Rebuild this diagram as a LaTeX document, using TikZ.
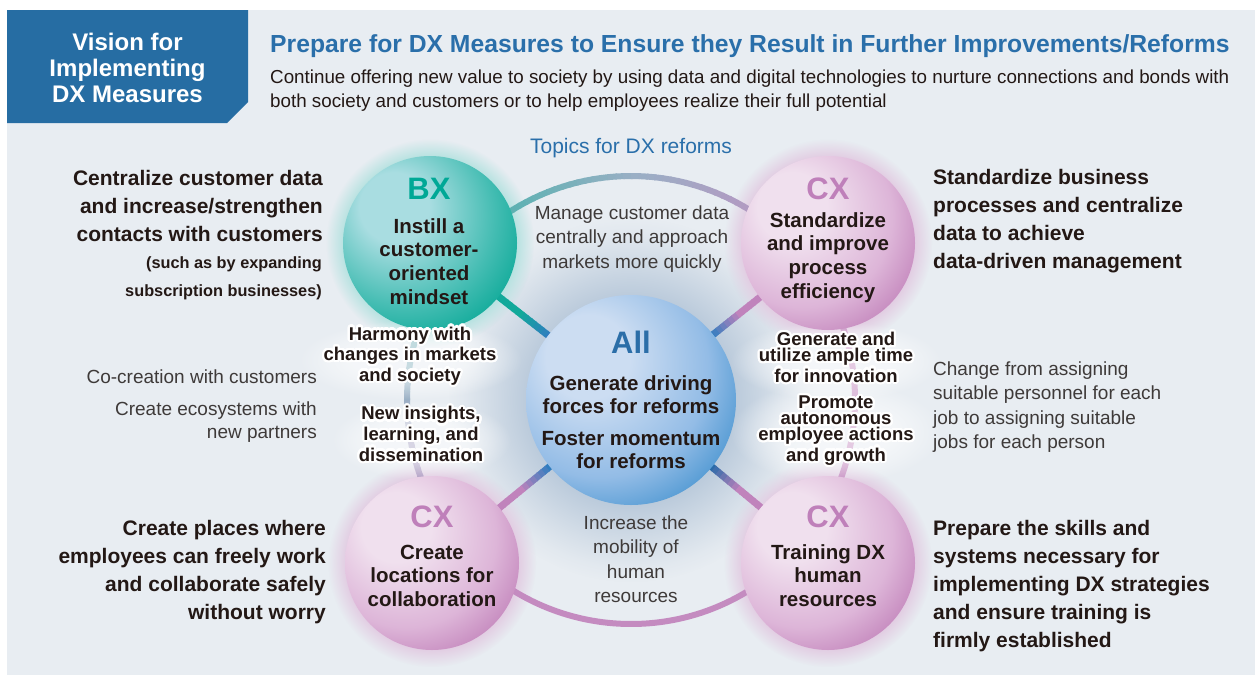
\documentclass[tikz,border=0pt]{standalone}
\usepackage{fontspec}
\setmainfont{Liberation Sans}
\usepackage{contour}
\contourlength{2.2pt}
\contournumber{32}
\usetikzlibrary{calc,fadings}

\definecolor{bgc}{HTML}{E8EDF2}
\definecolor{boxblue}{HTML}{266DA3}
\definecolor{headblue}{HTML}{2A6FAA}
\definecolor{txt}{HTML}{231815}
\definecolor{gtxt}{HTML}{3E3A39}
\definecolor{tealc}{HTML}{00A896}
\definecolor{purc}{HTML}{BF80BA}
\definecolor{allblue}{HTML}{2B6EA8}
\definecolor{bxA}{HTML}{A9DDE1}
\definecolor{bxB}{HTML}{45BDB3}
\definecolor{bxC}{HTML}{00A592}
\definecolor{cxA}{HTML}{F0E0EE}
\definecolor{cxB}{HTML}{DDB5D8}
\definecolor{cxC}{HTML}{BD7AB5}
\definecolor{alA}{HTML}{CCDDF2}
\definecolor{alB}{HTML}{93BCE6}
\definecolor{alC}{HTML}{2C86C8}
\definecolor{halobx}{HTML}{B5E2E0}
\definecolor{halocx}{HTML}{E2CCE2}
\definecolor{halobig}{HTML}{BACADB}
\definecolor{ringT}{HTML}{3AB3A7}
\definecolor{ringG}{HTML}{9AAFC5}
\definecolor{ringP}{HTML}{C48BC0}
\definecolor{spT}{HTML}{12A99A}
\definecolor{spP}{HTML}{C083BC}
\definecolor{spB}{HTML}{2F7DBF}
\definecolor{spB2}{HTML}{2A6BA8}

\pgfdeclareradialshading{bxball}{\pgfpoint{-12bp}{12bp}}{color(0bp)=(bxA); color(10bp)=(bxA); color(26bp)=(bxB); color(38bp)=(bxC); color(70bp)=(bxC)}
\pgfdeclareradialshading{cxball}{\pgfpoint{-12bp}{12bp}}{color(0bp)=(cxA); color(10bp)=(cxA); color(26bp)=(cxB); color(38bp)=(cxC); color(70bp)=(cxC)}
\pgfdeclareradialshading{allball}{\pgfpoint{-12bp}{12bp}}{color(0bp)=(alA); color(10bp)=(alA); color(26bp)=(alB); color(40bp)=(alC); color(70bp)=(alC)}
\pgfdeclareradialshading{halofadeshade}{\pgfpointorigin}{color(0bp)=(white); color(20.5bp)=(white); color(25bp)=(black); color(50bp)=(black)}
\pgfdeclarefading{halofade}{\pgfuseshading{halofadeshade}}
\pgfdeclareradialshading{bigfadeshade}{\pgfpointorigin}{color(0bp)=(white); color(14bp)=(white); color(17bp)=(white!70!black); color(20bp)=(white!40!black); color(23bp)=(white!12!black); color(25bp)=(black); color(50bp)=(black)}
\pgfdeclarefading{bigfade}{\pgfuseshading{bigfadeshade}}
\pgfdeclareradialshading{glowfadeshade}{\pgfpointorigin}{color(0bp)=(white); color(13bp)=(white); color(19bp)=(white!55!black); color(25bp)=(black); color(50bp)=(black)}
\pgfdeclarefading{glowfade}{\pgfuseshading{glowfadeshade}}

\newcommand\gw[1]{\contour{white}{#1}}

\begin{document}
\begin{tikzpicture}[x=1pt,y=-1pt,
  bigb/.style={inner sep=0pt, text=txt, font=\fontsize{21}{28}\selectfont\bfseries},
  smallb/.style={inner sep=0pt, text=txt, font=\fontsize{16.3}{28.5}\selectfont\bfseries},
  graytxt/.style={inner sep=0pt, text=gtxt, font=\fontsize{19}{24.5}\selectfont},
  ct/.style={inner sep=0pt, text=txt, align=center, anchor=base, font=\fontsize{20.5}{23.6}\selectfont\bfseries},
  xl/.style={inner sep=0pt, anchor=base, font=\fontsize{31}{31}\selectfont\bfseries},
  gl/.style={inner sep=0pt, text=txt, align=center, anchor=base, font=\fontsize{18.5}{16}\selectfont\bfseries},
  glow/.style={white, opacity=0.55, path fading=glowfade},
  ball/.style={circle, minimum size=174pt, inner sep=0pt, shade},
  ring/.style={line width=6pt, line cap=butt},
  spoke/.style={line width=7pt, line cap=butt}]
\useasboundingbox (0,0) rectangle (1255,675);
\fill[white] (0,0) rectangle (1255,675);
\fill[bgc] (7,10) rectangle (1255,675);
\fill[boxblue] (7,10) -- (248,10) -- (248,102) -- (227,123) -- (7,123) -- cycle;

\node[inner sep=0pt, text=white, align=center, anchor=base, font=\fontsize{24}{26}\selectfont\bfseries] (vision) at (127.5,102) {Vision for\\Implementing\\DX Measures};
\node[inner sep=0pt, text=headblue, anchor=base west, font=\fontsize{24.7}{26}\selectfont\bfseries] (title) at (270,52) {Prepare for DX Measures to Ensure they Result in Further Improvements/Reforms};
\node[inner sep=0pt, text=txt, anchor=base west, align=left, font=\fontsize{18.8}{24}\selectfont] (subtitle) at (270,107) {Continue offering new value to society by using data and digital technologies to nurture connections and bonds with\\both society and customers or to help employees realize their full potential};

% centres
\coordinate (ctr) at (631,400);
\coordinate (pbx) at (430,243);
\coordinate (pcxa) at (828,243);
\coordinate (pcxb) at (432,563);
\coordinate (pcxc) at (828,563);

% halos
\fill[halobig, path fading=bigfade] (ctr) circle (182);
\fill[halobx, path fading=halofade] (pbx) circle (104);
\fill[halocx, path fading=halofade] (pcxa) circle (104);
\fill[halocx, path fading=halofade] (pcxb) circle (104);
\fill[halocx, path fading=halofade] (pcxc) circle (104);

% ring
\foreach \a in {218,220,...,320}{
  \pgfmathtruncatemacro\t{(\a-218)*100/104}
  \ifnum\t<50
    \pgfmathtruncatemacro\u{2*\t}
    \colorlet{segc}{ringG!\u!ringT}
  \else
    \pgfmathtruncatemacro\u{2*\t-100}
    \colorlet{segc}{ringP!\u!ringG}
  \fi
  \draw[ring, segc] (ctr) ++(\a:224) arc[start angle=\a, end angle=\a+2.4, radius=224];
}
\foreach \a in {140,142,...,216}{
  \pgfmathtruncatemacro\t{(\a-140)*100/78}
  \ifnum\t<50
    \pgfmathtruncatemacro\u{2*\t}
    \colorlet{segc}{ringG!\u!ringP}
  \else
    \pgfmathtruncatemacro\u{2*\t-100}
    \colorlet{segc}{ringT!\u!ringG}
  \fi
  \draw[ring, segc] (ctr) ++(\a:224) arc[start angle=\a, end angle=\a+2.4, radius=224];
}
\draw[ring, ringP] (ctr) ++(322:224) arc[start angle=322, end angle=500, radius=224];

% soft white glows behind the in-between texts
\fill[glow] (410,360) ellipse (112 and 40);
\fill[glow] (421,440) ellipse (90 and 40);
\fill[glow] (836,361) ellipse (106 and 40);
\fill[glow] (836,432) ellipse (106 and 52);

% spokes
\foreach \tg/\oc/\ic in {pbx/spT/spB, pcxa/spP/spB, pcxb/spP/spB, pcxc/spP/spB2}{
  \foreach \i in {0,...,15}{
    \pgfmathsetmacro\sa{0.38+\i*0.02}
    \pgfmathsetmacro\sb{\sa+0.024}
    \pgfmathtruncatemacro\m{max(0,min(100,(\sa-0.40)*100/0.14))}
    \draw[spoke, color=\oc!\m!\ic] ($(ctr)!\sa!(\tg)$) -- ($(ctr)!\sb!(\tg)$);
  }
}

% circles
\node[ball, shading=bxball] (bx) at (pbx) {};
\node[ball, shading=cxball] (cxa) at (pcxa) {};
\node[ball, shading=cxball] (cxb) at (pcxb) {};
\node[ball, shading=cxball] (cxc) at (pcxc) {};
\node[circle, minimum size=210pt, inner sep=0pt, shade, shading=allball] (all) at (ctr) {};

% circle texts
\node[xl, text=tealc] (bxl) at (429,199) {BX};
\node[ct] (bxt) at (429,304) {Instill a\\customer-\\oriented\\mindset};
\node[xl, text=purc] (cxal) at (828,199) {CX};
\node[ct] (cxat) at (828,298) {Standardize\\and improve\\process\\efficiency};
\node[xl, text=allblue] (alll) at (631,353) {All};
\node[ct] (allt1) at (631,413.6) {Generate driving\\forces for reforms};
\node[ct] (allt2) at (631,468.6) {Foster momentum\\for reforms};
\node[xl, text=purc] (cxbl) at (432,527) {CX};
\node[ct] (cxbt) at (432,606.2) {Create\\locations for\\collaboration};
\node[xl, text=purc] (cxcl) at (828,527) {CX};
\node[ct] (cxct) at (828,606.2) {Training DX\\human\\resources};

% texts between circles
\node[gl] (harm) at (410,381) {\gw{Harmony with}\\\gw{changes in markets}\\\gw{and society}};
\node[gl] (ins) at (421,461) {\gw{New insights,}\\\gw{learning, and}\\\gw{dissemination}};
\node[gl] (gen) at (836,382) {\gw{Generate and}\\\gw{utilize ample time}\\\gw{for innovation}};
\node[gl] (prom) at (836,461) {\gw{Promote}\\\gw{autonomous}\\\gw{employee actions}\\\gw{and growth}};

\node[inner sep=0pt, anchor=base, text=headblue, font=\fontsize{21}{24}\selectfont] (topics) at (631,153) {Topics for DX reforms};
\node[graytxt, align=center, anchor=base] (manage) at (632,268) {Manage customer data\\centrally and approach\\markets more quickly};
\node[graytxt, align=center, anchor=base] (incr) at (636,602.5) {Increase the\\mobility of\\human\\resources};

% side texts
\node[bigb, anchor=base east, align=right] (ltop) at (323,241) {Centralize customer data\\and increase/strengthen\\contacts with customers};
\node[smallb, anchor=base east, align=right] (lsub) at (322,296.5) {(such as by expanding\\subscription businesses)};
\node[graytxt, anchor=base east, align=right] (lco) at (317,383) {Co-creation with customers};
\node[graytxt, anchor=base east, align=right, font=\fontsize{19}{23.5}\selectfont] (leco) at (317,438.5) {Create ecosystems with\\new partners};
\node[bigb, anchor=base east, align=right] (lbot) at (326,619) {Create places where\\employees can freely work\\and collaborate safely\\without worry};
\node[bigb, anchor=base west, align=left] (rtop) at (933,268) {Standardize business\\processes and centralize\\data to achieve\\data-driven management};
\node[graytxt, anchor=base west, align=left] (rmid) at (933,448.5) {Change from assigning\\suitable personnel for each\\job to assigning suitable\\jobs for each person};
\node[bigb, anchor=base west, align=left] (rbot) at (933,647) {Prepare the skills and\\systems necessary for\\implementing DX strategies\\and ensure training is\\firmly established};
\end{tikzpicture}
\end{document}
